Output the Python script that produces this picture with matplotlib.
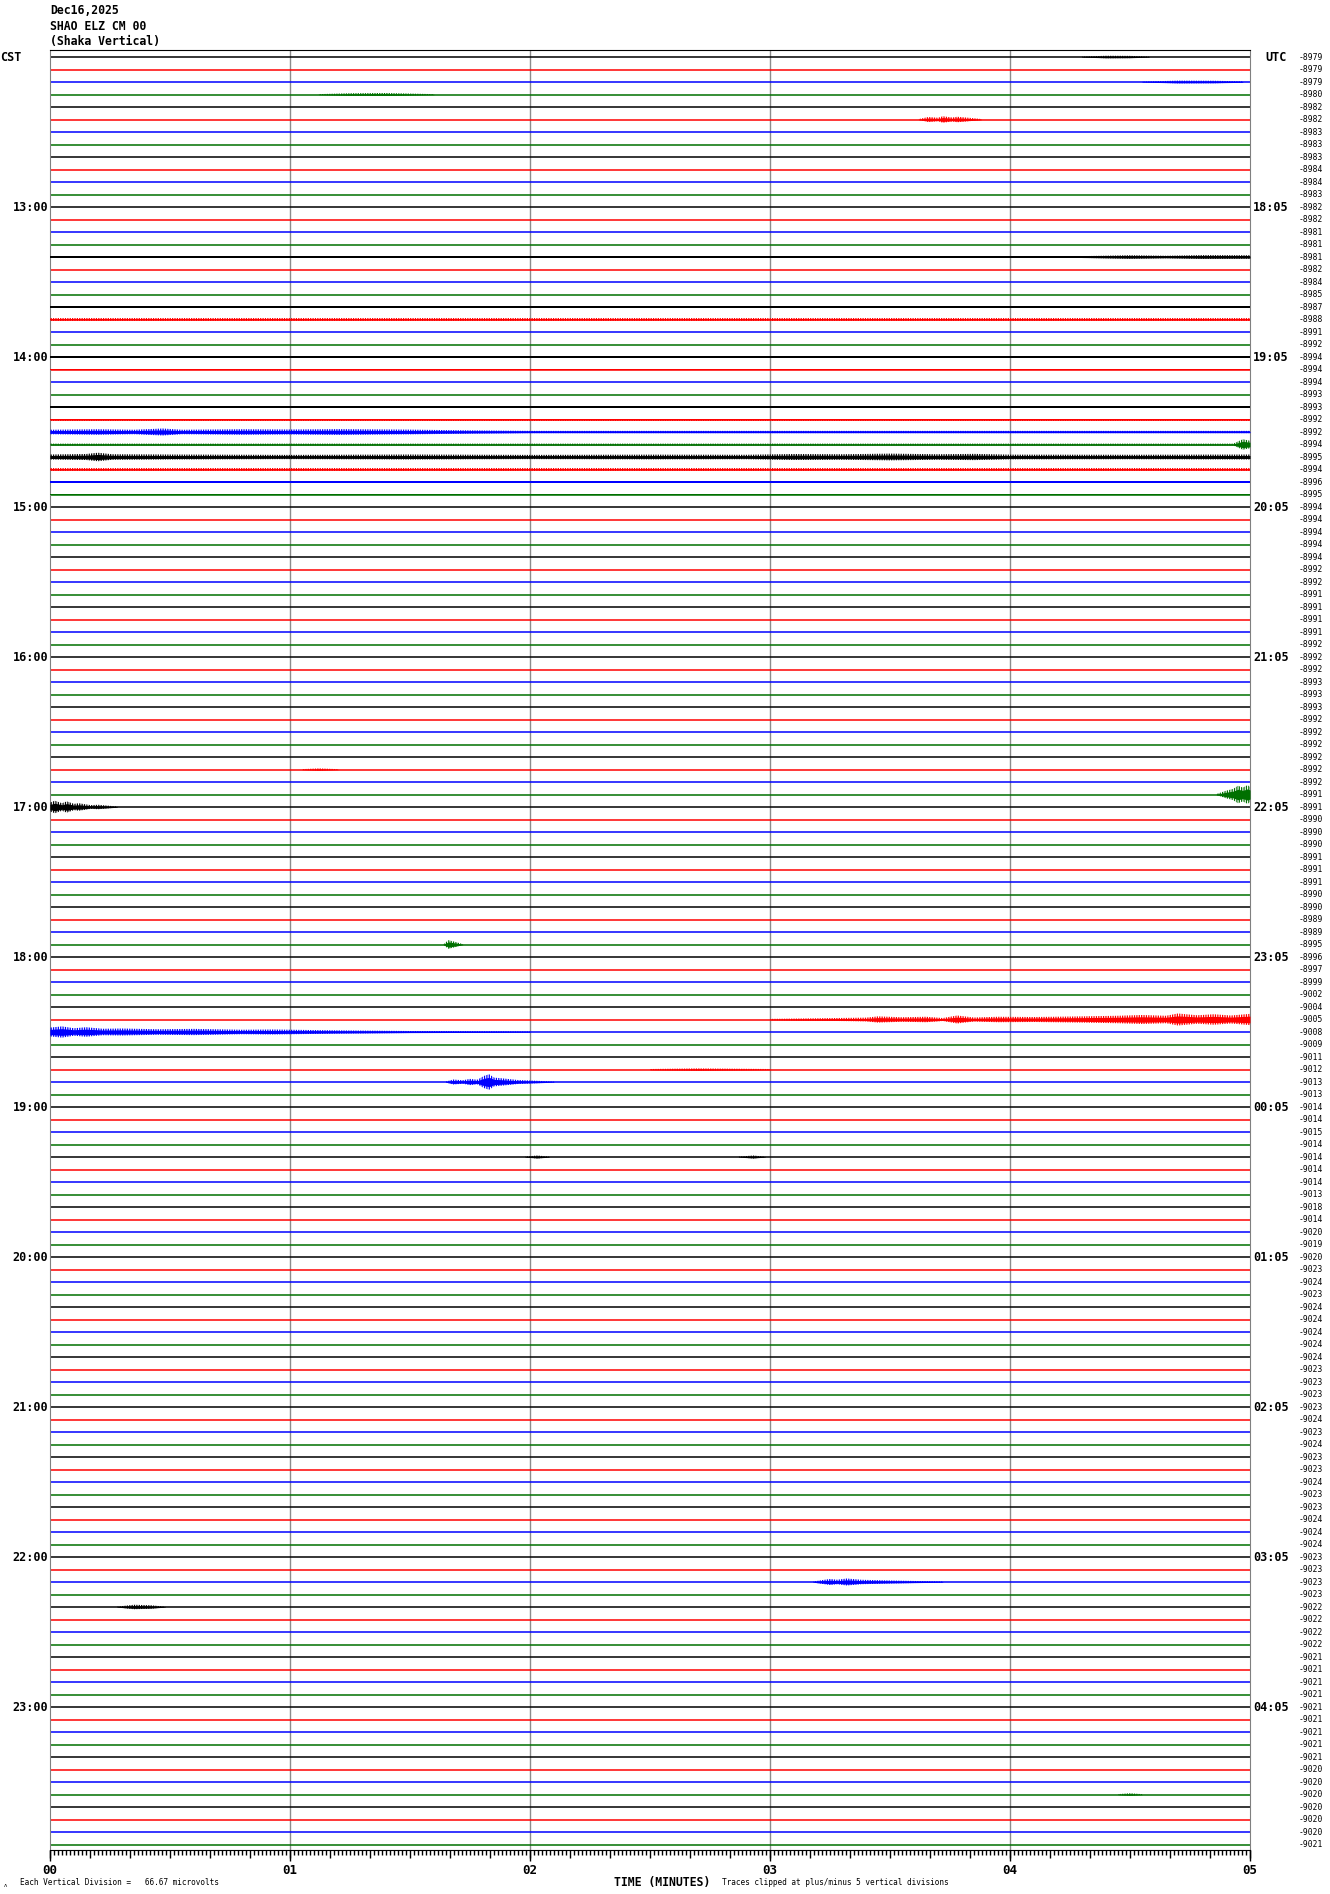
import matplotlib.pyplot as plt
import matplotlib.transforms as mtransforms
import numpy as np

##########################
# Data read off the helicorder
##########################
header = ["Dec16,2025", "SHAO ELZ CM 00", "(Shaka Vertical)"]
cst_hours = ["13:00", "14:00", "15:00", "16:00", "17:00", "18:00",
             "19:00", "20:00", "21:00", "22:00", "23:00"]
utc_hours = ["18:05", "19:05", "20:05", "21:05", "22:05", "23:05",
             "00:05", "01:05", "02:05", "03:05", "04:05"]
minute_labels = ["00", "01", "02", "03", "04", "05"]

# per-line offset numbers printed on the right (one per 5 minute trace)
trace_offsets = [
    -8979, -8979, -8979, -8980, -8982, -8982, -8983, -8983, -8983, -8984, -8984, -8983,
    -8982, -8982, -8981, -8981, -8981, -8982, -8984, -8985, -8987, -8988, -8991, -8992,
    -8994, -8994, -8994, -8993, -8993, -8992, -8992, -8994, -8995, -8994, -8996, -8995,
    -8994, -8994, -8994, -8994, -8994, -8992, -8992, -8991, -8991, -8991, -8991, -8992,
    -8992, -8992, -8993, -8993, -8993, -8992, -8992, -8992, -8992, -8992, -8992, -8991,
    -8991, -8990, -8990, -8990, -8991, -8991, -8991, -8990, -8990, -8989, -8989, -8995,
    -8996, -8997, -8999, -9002, -9004, -9005, -9008, -9009, -9011, -9012, -9013, -9013,
    -9014, -9014, -9015, -9014, -9014, -9014, -9014, -9013, -9018, -9014, -9020, -9019,
    -9020, -9023, -9024, -9023, -9024, -9024, -9024, -9024, -9024, -9023, -9023, -9023,
    -9023, -9024, -9023, -9024, -9023, -9023, -9024, -9023, -9023, -9024, -9024, -9024,
    -9023, -9023, -9023, -9023, -9022, -9022, -9022, -9022, -9021, -9021, -9021, -9021,
    -9021, -9021, -9021, -9021, -9021, -9020, -9020, -9020, -9020, -9020, -9020, -9021,
]

# traces with a steady raised noise level (half amplitude, in trace spacings)
noisy_traces = {16: 0.07, 20: 0.07, 21: 0.09, 24: 0.09, 25: 0.06, 28: 0.09,
                29: 0.08, 33: 0.1, 34: 0.08, 35: 0.06}

# bursts: (trace, [(minute, half amplitude in trace spacings), ...])
events = [
    (0, [(4.30, 0.03), (4.40, 0.10), (4.50, 0.09), (4.58, 0.03)]),
    (2, [(4.55, 0.03), (4.70, 0.11), (4.85, 0.10), (4.97, 0.05)]),
    (3, [(1.12, 0.03), (1.25, 0.10), (1.40, 0.12), (1.60, 0.03)]),
    (5, [(3.62, 0.04), (3.66, 0.20), (3.70, 0.14), (3.72, 0.26), (3.76, 0.16),
         (3.78, 0.22), (3.84, 0.12), (3.88, 0.04)]),
    (16, [(4.30, 0.07), (4.50, 0.14), (4.65, 0.10), (4.80, 0.15), (5.00, 0.14)]),
    (30, [(0.00, 0.18), (0.20, 0.22), (0.35, 0.18), (0.47, 0.28), (0.55, 0.18),
          (0.80, 0.22), (1.00, 0.20), (1.20, 0.23), (1.50, 0.19), (1.75, 0.13),
          (2.00, 0.09), (5.00, 0.09)]),
    (31, [(0.00, 0.07), (4.93, 0.07), (4.97, 0.42), (5.00, 0.30)]),
    (32, [(0.00, 0.20), (0.15, 0.24), (0.20, 0.34), (0.26, 0.22), (0.50, 0.20),
          (1.00, 0.17), (1.50, 0.20), (2.00, 0.17), (2.50, 0.19), (2.90, 0.18),
          (3.10, 0.24), (3.30, 0.22), (3.50, 0.27), (3.70, 0.22), (3.85, 0.25),
          (4.00, 0.19), (4.50, 0.18), (5.00, 0.20)]),
    (57, [(1.05, 0.03), (1.12, 0.09), (1.20, 0.03)]),
    (59, [(4.86, 0.04), (4.90, 0.30), (4.93, 0.45), (4.95, 0.70), (4.97, 0.55),
          (4.99, 0.75), (5.00, 0.60)]),
    (60, [(0.00, 0.35), (0.02, 0.50), (0.05, 0.30), (0.07, 0.45), (0.10, 0.25),
          (0.12, 0.30), (0.17, 0.15), (0.20, 0.18), (0.28, 0.04)]),
    (71, [(1.64, 0.03), (1.66, 0.35), (1.69, 0.20), (1.72, 0.03)]),
    (77, [(3.00, 0.05), (3.40, 0.15), (3.45, 0.25), (3.55, 0.18), (3.65, 0.22),
          (3.72, 0.12), (3.78, 0.32), (3.85, 0.16), (3.95, 0.22), (4.10, 0.20),
          (4.30, 0.25), (4.45, 0.30), (4.55, 0.36), (4.65, 0.30), (4.70, 0.48),
          (4.78, 0.34), (4.85, 0.42), (4.92, 0.32), (5.00, 0.45)]),
    (78, [(0.00, 0.35), (0.05, 0.45), (0.10, 0.30), (0.15, 0.38), (0.22, 0.26),
          (0.30, 0.28), (0.45, 0.22), (0.60, 0.25), (0.80, 0.18), (0.93, 0.20),
          (1.20, 0.13), (1.50, 0.08), (2.00, 0.04)]),
    (81, [(2.50, 0.04), (2.70, 0.09), (3.00, 0.04)]),
    (82, [(1.65, 0.04), (1.68, 0.20), (1.72, 0.14), (1.75, 0.25), (1.78, 0.18),
          (1.81, 0.50), (1.83, 0.62), (1.85, 0.35), (1.88, 0.30), (1.95, 0.16),
          (2.05, 0.08), (2.10, 0.03)]),
    (88, [(1.98, 0.03), (2.03, 0.12), (2.08, 0.03)]),
    (88, [(2.87, 0.03), (2.93, 0.12), (2.98, 0.03)]),
    (122, [(3.18, 0.04), (3.22, 0.16), (3.25, 0.24), (3.28, 0.18), (3.32, 0.28),
           (3.38, 0.18), (3.50, 0.12), (3.72, 0.04)]),
    (124, [(0.28, 0.03), (0.35, 0.18), (0.42, 0.14), (0.48, 0.03)]),
    (139, [(4.45, 0.03), (4.50, 0.10), (4.55, 0.03)]),
]

trace_colors = ['#000000', '#ff0000', '#0000ff', '#007000']
n_traces = len(trace_offsets)
mono = 'DejaVu Sans Mono'
plt.rcParams['hatch.linewidth'] = 0.9

##########################
# Figure
##########################
fig = plt.figure(figsize=(13.3, 18.94), dpi=100)
W, H = 1330.0, 1894.0
ax = fig.add_axes([50 / W, 1 - 1850 / H, 1200 / W, 1800 / H])
ax.set_xlim(0, 5)
ax.set_ylim(n_traces - 1 + 0.44, -0.56)

# minute grid
for m in range(1, 5):
    ax.axvline(m, color='#8c8c8c', lw=1.0, zorder=1)


def add_band(row, t, a, color):
    # solid core plus a hatched outer band so the burst looks like a wiggle
    a = np.asarray(a)
    ax.fill_between(t, row - 0.6 * a, row + 0.6 * a, color=color, lw=0, zorder=3)
    ax.fill_between(t, row - a, row + a, facecolor='none', edgecolor=color,
                    hatch='|||||||', lw=0, zorder=3)


# traces
for r in range(n_traces):
    c = trace_colors[r % 4]
    ax.plot([0, 5], [r, r], color=c, lw=1.1, solid_capstyle='butt', zorder=2)
    if r in noisy_traces:
        add_band(r, [0, 5], [noisy_traces[r]] * 2, c)

for r, knots in events:
    add_band(r, [k[0] for k in knots], [k[1] for k in knots], trace_colors[r % 4])

# frame
ax.spines['top'].set_color('black')
ax.spines['bottom'].set_color('black')
ax.spines['left'].set_color('#808080')
ax.spines['right'].set_color('#808080')
ax.set_yticks([])

# ticks: seconds (minor), 10 s (major), minutes via secondary axis
ax.set_xticks(np.arange(0, 5.001, 1 / 6))
ax.set_xticks(np.arange(0, 5.001, 1 / 60), minor=True)
ax.tick_params(axis='x', which='major', length=5.5, width=1, labelbottom=False)
ax.tick_params(axis='x', which='minor', length=3.5, width=1)
sec = ax.secondary_xaxis('bottom')
sec.set_xticks(range(6))
sec.set_xticklabels(minute_labels, fontfamily=mono, fontweight='bold', fontsize=9)
sec.tick_params(length=8, width=1, pad=2)
sec.spines['bottom'].set_visible(False)

# side labels
trans = mtransforms.blended_transform_factory(ax.transAxes, ax.transData)
ax.text(-50 / 1200, 0, "CST", transform=trans, ha='left', va='center',
        fontfamily=mono, fontweight='bold', fontsize=8.5)
ax.text(1215 / 1200, 0, "UTC", transform=trans, ha='left', va='center',
        fontfamily=mono, fontweight='bold', fontsize=8.5)
for i, (lt, ut) in enumerate(zip(cst_hours, utc_hours)):
    row = 12 * (i + 1)
    ax.text(-2 / 1200, row, lt, transform=trans, ha='right', va='center',
            fontfamily=mono, fontweight='bold', fontsize=8.5)
    ax.text(1203 / 1200, row, ut, transform=trans, ha='left', va='center',
            fontfamily=mono, fontweight='bold', fontsize=8.5)
for r, v in enumerate(trace_offsets):
    ax.text(1249 / 1200, r, str(v), transform=trans, ha='left', va='center',
            fontfamily=mono, fontsize=5.8)

# header
for i, line in enumerate(header):
    fig.text(50 / W, 1 - (11 + 15.5 * i) / H, line, ha='left', va='center',
             fontfamily=mono, fontweight='bold', fontsize=8.3)

# footer
fy = 1 - 1882 / H
fig.text(4 / W, 1 - 1885 / H, "ʌ", ha='left', va='center', fontsize=4)
fig.text(20 / W, fy, "Each Vertical Division =   66.67 microvolts", ha='left', va='center',
         fontfamily=mono, fontsize=5.6)
fig.text(662 / W, fy, "TIME (MINUTES)", ha='center', va='center',
         fontfamily=mono, fontweight='bold', fontsize=8.3)
fig.text(722 / W, fy, "Traces clipped at plus/minus 5 vertical divisions", ha='left', va='center',
         fontfamily=mono, fontsize=5.6)

fig.savefig("out.png", dpi=100)
